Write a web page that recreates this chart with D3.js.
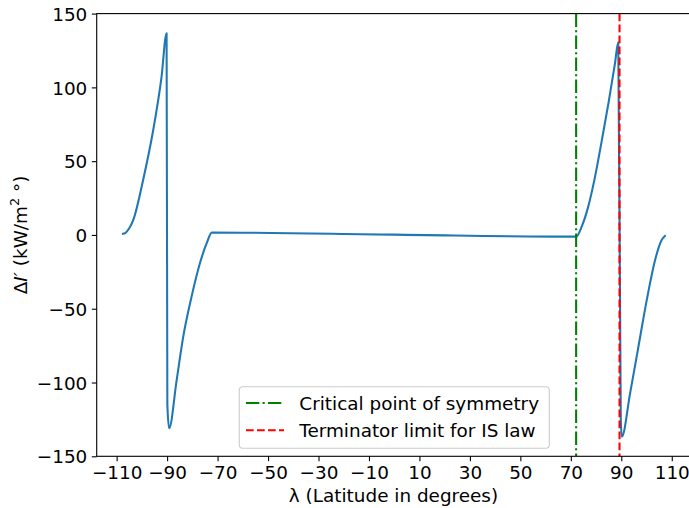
<!DOCTYPE html>
<html>
<head>
<meta charset="utf-8">
<script src="https://cdn.jsdelivr.net/npm/d3@7"></script>
<style>
  html, body { margin: 0; padding: 0; background: #fff; }
  svg { display: block; font-family: "DejaVu Sans", sans-serif; }
</style>
</head>
<body>
<svg id="chart" width="689" height="508"></svg>
<script>
// ---- data ----
const latitude = [-107.5, -106.6, -105, -103.4, -99.5, -95.5, -92.2, -90.2, -89.9, -89.2,
  -86.2, -83.6, -80.3, -77.0, -74.3, -72.3, 0, 72.1, 74.3, 76.9, 79.6, 82.3, 84.9, 87.5, 88.8,
  89.8, 90.2, 93.5, 96.8, 100.1, 103.4, 106.0, 107.3];
const deltaI = [0.8, 1.3, 4.5, 10.2, 37.3, 71.1, 107.2, 136.7, -115, -131,
  -98.2, -68.9, -41.8, -19.2, -5.6, 1.6, 0.2, -1.15, 5.6, 19.2, 39.5, 64.3, 89.2, 116.3, 130.5,
  -125, -136.7, -107.2, -75.6, -44, -16.9, -3.4, -0.7];
const criticalPoint = 72.1;
const terminatorLimit = 89.3;
const xTicks = [-110, -90, -70, -50, -30, -10, 10, 30, 50, 70, 90, 110];
const yTicks = [-150, -100, -50, 0, 50, 100, 150];
const legendLabels = ["Critical point of symmetry", "Terminator limit for IS law"];

// ---- layout ----
const svg = d3.select("#chart");
const pL = 96.7, pR = 692.2, pT = 13.6, pB = 456.3;
const x = d3.scaleLinear().domain([-117.9, 118.1]).range([pL, pR]);
const y = d3.scaleLinear().domain([-150, 150]).range([pB, pT]);
const labelFont = 18.4;

svg.append("defs").append("clipPath").attr("id", "clip")
  .append("rect").attr("x", pL).attr("y", pT).attr("width", pR - pL).attr("height", pB - pT);

const plot = svg.append("g").attr("clip-path", "url(#clip)");

// blue curve
const line = d3.line().x((d, i) => x(latitude[i])).y(d => y(d)).curve(d3.curveMonotoneX);
plot.append("path").datum(deltaI)
  .attr("d", line)
  .attr("fill", "none")
  .attr("stroke", "#1f77b4")
  .attr("stroke-width", 2.08)
  .attr("stroke-linejoin", "round")
  .attr("stroke-linecap", "square");

// vertical lines
plot.append("line")
  .attr("x1", x(criticalPoint)).attr("x2", x(criticalPoint))
  .attr("y1", pT).attr("y2", pB)
  .attr("stroke", "#008000").attr("stroke-width", 2.08)
  .attr("stroke-dasharray", "13.3,3.3,2.1,3.3");
plot.append("line")
  .attr("x1", x(terminatorLimit)).attr("x2", x(terminatorLimit))
  .attr("y1", pT).attr("y2", pB)
  .attr("stroke", "#ff0000").attr("stroke-width", 2.08)
  .attr("stroke-dasharray", "7.7,3.3");

// axes
const xAxis = d3.axisBottom(x).tickValues(xTicks).tickSize(4.9).tickPadding(4.5)
  .tickFormat(d3.format("d"));
const gx = svg.append("g").attr("transform", `translate(0,${pB})`).call(xAxis);
const yAxis = d3.axisLeft(y).tickValues(yTicks).tickSize(4.9).tickPadding(4.5)
  .tickFormat(d3.format("d"));
const gy = svg.append("g").attr("transform", `translate(${pL},0)`).call(yAxis);
[gx, gy].forEach(g => {
  g.select(".domain").remove();
  g.selectAll(".tick line").attr("stroke", "#000").attr("stroke-width", 1.1);
  g.selectAll(".tick text").attr("font-size", labelFont).attr("fill", "#000")
    .attr("font-family", "DejaVu Sans");
});
gy.selectAll(".tick text").attr("dy", "0.36em");

// spines
svg.append("rect").attr("x", pL).attr("y", pT)
  .attr("width", pR - pL).attr("height", pB - pT)
  .attr("fill", "none").attr("stroke", "#000").attr("stroke-width", 1.1);

// axis labels
svg.append("text").attr("x", 393.5).attr("y", 502.3)
  .attr("text-anchor", "middle").attr("font-size", labelFont)
  .text("λ (Latitude in degrees)");

const yl = svg.append("text")
  .attr("transform", `translate(26.5,${(pT + pB) / 2}) rotate(-90)`)
  .attr("text-anchor", "middle").attr("font-size", labelFont);
yl.append("tspan").text("Δ");
yl.append("tspan").attr("font-style", "italic").text("I′");
yl.append("tspan").text(" (kW/m");
yl.append("tspan").attr("font-size", labelFont * 0.7).attr("dy", -7.5).text("2");
yl.append("tspan").attr("dy", 7.5).text(" °)");

// legend
const lg = svg.append("g");
lg.append("rect").attr("x", 239.3).attr("y", 386.8).attr("width", 310).attr("height", 61.4)
  .attr("rx", 3.5).attr("fill", "#fff").attr("fill-opacity", 0.8)
  .attr("stroke", "#cccccc").attr("stroke-width", 1.1);
const styles = [
  { color: "#008000", dash: "13.3,3.3,2.1,3.3" },
  { color: "#ff0000", dash: "7.7,3.3" }
];
legendLabels.forEach((lab, i) => {
  const yy = 403 + i * 27.2;
  lg.append("line").attr("x1", 246).attr("x2", 284).attr("y1", yy).attr("y2", yy)
    .attr("stroke", styles[i].color).attr("stroke-width", 2.08)
    .attr("stroke-dasharray", styles[i].dash);
  lg.append("text").attr("x", 299.3).attr("y", yy).attr("dy", "0.36em")
    .attr("font-size", labelFont).text(lab);
});
</script>
</body>
</html>
